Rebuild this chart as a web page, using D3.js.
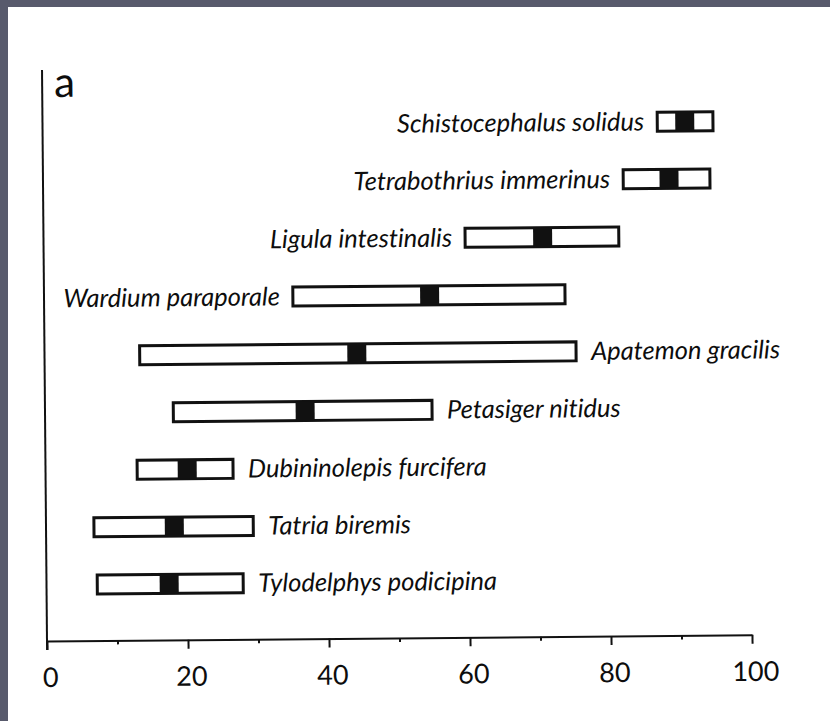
<!DOCTYPE html>
<head>
<style>
  body { margin: 0; background: #585a6c; }
  svg { display: block; }
  text { font-variant-ligatures: none; }
  .species { font-family: Lato, "Open Sans", sans-serif; font-style: italic; font-size: 25.5px; fill: #0d0d0d; }
  .axis text { font-family: Lato, "Open Sans", sans-serif; font-size: 27px; fill: #0d0d0d; }
</style>
</head>
<body>

<svg width="830" height="721"></svg>
<script src="https://d3js.org/d3.v7.min.js"></script>

<script>

// species top to bottom, range low / high and the black marker (mean)
var species = ["Schistocephalus solidus", "Tetrabothrius immerinus", "Ligula intestinalis",
  "Wardium paraporale", "Apatemon gracilis", "Petasiger nitidus",
  "Dubininolepis furcifera", "Tatria biremis", "Tylodelphys podicipina"];
var rangeLow  = [87.2, 82.3, 59.8, 35.3, 13.5, 18.2, 13.0, 6.8, 7.2];
var rangeHigh = [95.1, 94.6, 81.6, 73.9, 75.4, 54.9, 26.6, 29.4, 27.9];
var meanValue = [91.1, 88.8, 70.8, 54.7, 44.3, 36.9, 20.1, 18.2, 17.4];
var labelSide = ["left", "left", "left", "left", "right", "right", "right", "right", "right"];
var majorTicks = [0, 20, 40, 60, 80, 100];
var minorTicks = [10, 30, 50, 70, 90];

var svg = d3.select("svg");

// scanned page: white sheet over dark frame
svg.append("rect")
    .attr("x", 8).attr("y", 7)
    .attr("width", 822).attr("height", 714)
    .attr("fill", "#fff");

var x = d3.scaleLinear().domain([0, 100]).range([47, 752]);
var y = d3.scalePoint().domain(species).range([127, 585]);

// the scan is tilted a little
var g = svg.append("g").attr("transform", "rotate(-0.5, 47, 641)");

// y axis line (no ticks)
g.append("line")
    .attr("x1", x(0)).attr("x2", x(0))
    .attr("y1", 70).attr("y2", 650)
    .attr("stroke", "#111").attr("stroke-width", 2);

g.append("text")
    .attr("x", 59).attr("y", 97)
    .style("font-family", "Lato, 'Open Sans', sans-serif")
    .style("font-size", "42px")
    .attr("fill", "#0d0d0d")
    .text("a");

// minor ticks first, then the labelled axis
var minor = g.append("g")
    .attr("transform", "translate(0,641)")
    .call(d3.axisBottom(x).tickValues(minorTicks).tickSize(4).tickFormat(""));
minor.select(".domain").remove();
minor.selectAll("line").attr("stroke", "#111").attr("stroke-width", 2);

var xAxis = g.append("g")
    .attr("class", "axis")
    .attr("transform", "translate(0,641)")
    .call(d3.axisBottom(x).tickValues(majorTicks).tickSize(9).tickSizeOuter(0).tickFormat(d3.format("d")));
xAxis.select(".domain").attr("stroke", "#111").attr("stroke-width", 2);
xAxis.selectAll("line").attr("stroke", "#111").attr("stroke-width", 2);
xAxis.selectAll("text")
    .attr("y", 46).attr("dy", 0).attr("dx", 3)
    .attr("font-family", null).attr("font-size", null);

var rows = species.map(function(s, i) {
  return { name: s, lo: rangeLow[i], hi: rangeHigh[i], mean: meanValue[i], side: labelSide[i] };
});

var BAR_H = 19, MARK_W = 19;

var row = g.selectAll("g.row")
    .data(rows)
    .enter().append("g")
      .attr("class", "row")
      .attr("transform", function(d) { return "translate(0," + y(d.name) + ")"; });

row.append("rect")
    .attr("x", function(d) { return x(d.lo); })
    .attr("y", -BAR_H / 2)
    .attr("width", function(d) { return x(d.hi) - x(d.lo); })
    .attr("height", BAR_H)
    .attr("fill", "#fff")
    .attr("stroke", "#111")
    .attr("stroke-width", 3);

row.append("rect")
    .attr("x", function(d) { return x(d.mean) - MARK_W / 2; })
    .attr("y", -BAR_H / 2)
    .attr("width", MARK_W)
    .attr("height", BAR_H)
    .attr("fill", "#111");

row.append("text")
    .attr("class", "species")
    .attr("x", function(d) { return d.side === "left" ? x(d.lo) - 13 : x(d.hi) + 15; })
    .attr("dy", "0.34em")
    .attr("text-anchor", function(d) { return d.side === "left" ? "end" : "start"; })
    .text(function(d) { return d.name; });

</script>
</body>
